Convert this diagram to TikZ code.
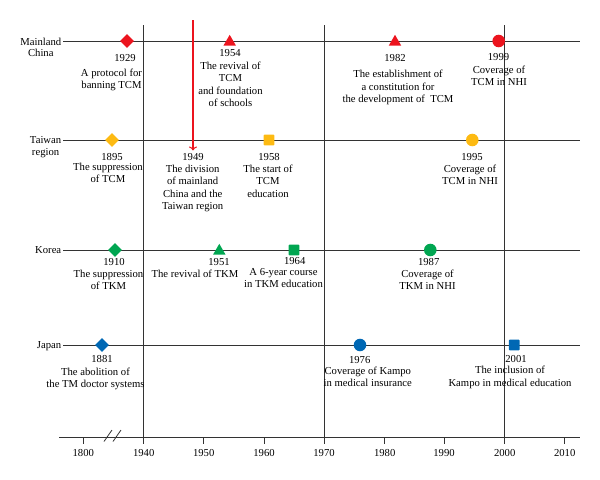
\documentclass[tikz,border=0pt]{standalone}
\usepackage{fontspec}
\setmainfont{Liberation Serif}
\usetikzlibrary{shapes.geometric,arrows.meta}

\definecolor{mcred}{RGB}{236,20,30}
\definecolor{twyellow}{RGB}{253,186,18}
\definecolor{kogreen}{RGB}{0,166,81}
\definecolor{jpblue}{RGB}{0,104,180}

\begin{document}
\begin{tikzpicture}[x=0.75pt, y=-0.75pt,
    rowline/.style={draw=black!80, line width=0.6pt},
    divline/.style={color=mcred, line width=0.8pt, -{To[length=3pt,width=6pt]}},
    rowlbl/.style={font=\fontsize{8}{8.6}\selectfont, align=center, anchor=north east, inner sep=0pt},
    yearlbl/.style={font=\fontsize{8}{9}\selectfont, inner sep=0pt},
    eventlbl/.style={font=\fontsize{8}{9.2}\selectfont, align=center, anchor=north, inner sep=0pt},
    dia/.style={diamond, inner sep=0pt, minimum width=10.5pt, minimum height=10.5pt},
    tri/.style={regular polygon, regular polygon sides=3, inner sep=0pt, minimum size=10.8pt},
    dot/.style={circle, inner sep=0pt, minimum size=9.4pt},
    sqr/.style={rectangle, rounded corners=0.6pt, inner sep=0pt, minimum size=8pt}]
    \useasboundingbox (0,0) rectangle (600,479);

    % Grid lines for 1940, 1970 and 2000
    \draw[rowline] (143.7,25) -- (143.7,444);
    \draw[rowline] (324,25) -- (324,444);
    \draw[rowline] (504.7,25) -- (504.7,444);

    % Rows
    \draw[rowline] (63,41) -- (580,41);
    \draw[rowline] (63,140) -- (580,140);
    \draw[rowline] (63,250) -- (580,250);
    \draw[rowline] (63,345) -- (580,345);
    \node[rowlbl] (mc) at (61.5,37.5) {Mainland\\China};
    \node[rowlbl] (tw) at (61.5,136.5) {Taiwan\\region};
    \node[rowlbl] (ko) at (61.5,246.5) {Korea};
    \node[rowlbl] (jp) at (61.5,341.5) {Japan};

    % Time axis
    \draw[rowline] (59,437) -- (580,437);
    \draw[rowline] (83.3,437) -- (83.3,444);
    \draw[rowline] (203.7,437) -- (203.7,444);
    \draw[rowline] (264,437) -- (264,444);
    \draw[rowline] (384.7,437) -- (384.7,444);
    \draw[rowline] (444,437) -- (444,444);
    \draw[rowline] (564.7,437) -- (564.7,444);
    \draw[rowline] (104,441.5) -- (112,430);
    \draw[rowline] (113,441.5) -- (121,430);
    \node[yearlbl] (a1800) at (83.3,452.7) {1800};
    \node[yearlbl] (a1940) at (143.7,452.7) {1940};
    \node[yearlbl] (a1950) at (203.7,452.7) {1950};
    \node[yearlbl] (a1960) at (264,452.7) {1960};
    \node[yearlbl] (a1970) at (324,452.7) {1970};
    \node[yearlbl] (a1980) at (384.7,452.7) {1980};
    \node[yearlbl] (a1990) at (444,452.7) {1990};
    \node[yearlbl] (a2000) at (504.7,452.7) {2000};
    \node[yearlbl] (a2010) at (564.7,452.7) {2010};

    % Mainland China
    \node[dia, fill=mcred] (m1929) at (127,41) {};
    \node[tri, fill=mcred] (m1954) at (229.7,42) {};
    \node[tri, fill=mcred] (m1982) at (395,42) {};
    \node[dot, fill=mcred] (m1999) at (498.7,41) {};
    \node[yearlbl] (y1929) at (125,57.7) {1929};
    \node[eventlbl] (t1929) at (111.5,68.7) {A protocol for\\banning TCM};
    \node[yearlbl] (y1954) at (230,52.7) {1954};
    \node[eventlbl] (t1954) at (230.5,61.7) {The revival of\\TCM\\and foundation\\of schools};
    \node[yearlbl] (y1982) at (395,57.7) {1982};
    \node[eventlbl] (t1982) at (398,70) {The establishment of\\a constitution for\\the development of\ \ TCM};
    \node[yearlbl] (y1999) at (498.5,56.7) {1999};
    \node[eventlbl] (t1999) at (499,65.7) {Coverage of\\TCM in NHI};

    % Taiwan region
    \node[dia, fill=twyellow] (m1895) at (112,140) {};
    \node[sqr, fill=twyellow] (m1958) at (269,140) {};
    \node[dot, fill=twyellow] (m1995) at (472.3,140) {};
    \node[yearlbl] (y1895) at (112,156.7) {1895};
    \node[eventlbl] (t1895) at (108,163) {The suppression\\of TCM};
    \node[yearlbl] (y1949) at (193,157) {1949};
    \node[eventlbl] (t1949) at (192.7,165) {The division\\of mainland\\China and the\\Taiwan region};
    \node[yearlbl] (y1958) at (269,157) {1958};
    \node[eventlbl] (t1958) at (268,164.7) {The start of\\TCM\\education};
    \node[yearlbl] (y1995) at (472,157.3) {1995};
    \node[eventlbl] (t1995) at (470,164.7) {Coverage of\\TCM in NHI};

    % Division arrow
    \coordinate (divtop) at (193,20);
    \draw[divline, shorten >=2pt] (divtop) -- (y1949.north);

    % Korea
    \node[dia, fill=kogreen] (m1910) at (115,250) {};
    \node[tri, fill=kogreen] (m1951) at (219.3,251) {};
    \node[sqr, fill=kogreen] (m1964) at (294,250) {};
    \node[dot, fill=kogreen] (m1987) at (430.3,250) {};
    \node[yearlbl] (y1910) at (114,262.3) {1910};
    \node[eventlbl] (t1910) at (108.5,269.7) {The suppression\\of TKM};
    \node[yearlbl] (y1951) at (219,262.3) {1951};
    \node[eventlbl] (t1951) at (195,269.7) {The revival of TKM};
    \node[yearlbl] (y1964) at (294.7,261) {1964};
    \node[eventlbl] (t1964) at (283.5,267.7) {A 6-year course\\in TKM education};
    \node[yearlbl] (y1987) at (428.7,262.3) {1987};
    \node[eventlbl] (t1987) at (427.5,269.7) {Coverage of\\TKM in NHI};

    % Japan
    \node[dia, fill=jpblue] (m1881) at (102,345) {};
    \node[dot, fill=jpblue] (m1976) at (360,345) {};
    \node[sqr, fill=jpblue] (m2001) at (514.3,345) {};
    \node[yearlbl] (y1881) at (102,359.3) {1881};
    \node[eventlbl] (t1881) at (95.5,367.7) {The abolition of\\the TM doctor systems};
    \node[yearlbl] (y1976) at (359.7,359.7) {1976};
    \node[eventlbl] (t1976) at (367.8,366.7) {Coverage of Kampo\\in medical insurance};
    \node[yearlbl] (y2001) at (516,359.3) {2001};
    \node[eventlbl] (t2001) at (510,366) {The inclusion of\\Kampo in medical education};
\end{tikzpicture}
\end{document}
